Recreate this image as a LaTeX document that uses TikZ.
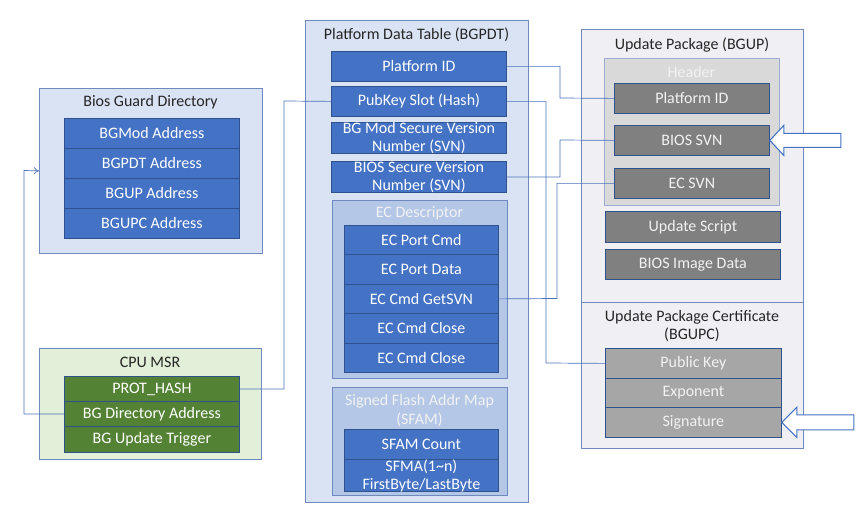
\documentclass[tikz,border=0pt]{standalone}
\usepackage{fontspec}
\setmainfont{Carlito}
\usetikzlibrary{arrows.meta}
\definecolor{outerfill}{HTML}{DAE3F3}
\definecolor{outerdraw}{HTML}{7089BE}
\definecolor{rowblue}{HTML}{4472C4}
\definecolor{rowdraw}{HTML}{2F528F}
\definecolor{ecfill}{HTML}{B4C7E7}
\definecolor{greenfill}{HTML}{E2F0D9}
\definecolor{rowgreen}{HTML}{548235}
\definecolor{upfill}{HTML}{F0F0F4}
\definecolor{hdrfill}{HTML}{D9D9D9}
\definecolor{rowgray}{HTML}{808080}
\definecolor{rowlgray}{HTML}{A6A6A6}
\definecolor{titletext}{HTML}{262626}
\definecolor{conncol}{HTML}{4A70BC}
\tikzset{
  box/.style={anchor=north west, inner sep=0pt, line width=0.8pt},
  outerbox/.style={box, fill=outerfill, draw=outerdraw},
  brow/.style={box, fill=rowblue, draw=rowdraw, text=white, minimum height=30, align=center, font=\fontsize{16}{19}\selectfont},
  greenrow/.style={brow, fill=rowgreen},
  grayrow/.style={brow, fill=rowgray, text=white!95!black},
  lgrayrow/.style={brow, fill=rowlgray, text=white!95!black},
  title/.style={inner sep=0pt, text=titletext, align=center, font=\fontsize{16}{18}\selectfont},
  wtitle/.style={title, text=white!95!black},
  conn/.style={draw=conncol, line width=0.7pt},
  hollow/.style={draw=rowblue, fill=white, line width=1.1pt, line join=miter},
}
\begin{document}
\begin{tikzpicture}[x=1pt,y=-1pt]
\useasboundingbox (0,0) rectangle (867,518);
% Bios Guard Directory
\node[outerbox, minimum width=223, minimum height=165] (bgd) at (39,88) {};
\node[title] (bgdt) at (150.5,102) {Bios Guard Directory};
\node[brow, minimum width=175] (bgmod) at (64,118) {BGMod Address};
\node[brow, minimum width=175] (bgpdta) at (64,148) {BGPDT Address};
\node[brow, minimum width=175] (bgupa) at (64,178) {BGUP Address};
\node[brow, minimum width=175] (bgupca) at (64,208) {BGUPC Address};
% CPU MSR
\node[box, fill=greenfill, draw=outerdraw, minimum width=222, minimum height=111] (msr) at (39,348) {};
\node[title] (msrt) at (150,362) {CPU MSR};
\node[greenrow, minimum width=175, minimum height=25] (prot) at (64,376) {PROT\_HASH};
\node[greenrow, minimum width=175, minimum height=25] (bgdaddr) at (64,401) {BG Directory Address};
\node[greenrow, minimum width=175, minimum height=26] (bgtrig) at (64,426) {BG Update Trigger};
% BGPDT
\node[outerbox, minimum width=223, minimum height=482] (pdt) at (305,20) {};
\node[title] (pdtt) at (416.5,35) {Platform Data Table (BGPDT)};
\node[brow, minimum width=175] (pid) at (331,51) {Platform ID};
\node[brow, minimum width=175] (pkey) at (331,86) {PubKey Slot (Hash)};
\node[brow, minimum width=175, minimum height=30] (bgmsvn) at (331,122) {BG Mod Secure Version\\[-1pt]Number (SVN)};
\node[brow, minimum width=175, minimum height=31] (biossvn) at (331,161) {BIOS Secure Version\\[-1pt]Number (SVN)};
% EC Descriptor
\node[box, fill=ecfill, draw=outerdraw, minimum width=175, minimum height=178] (ecd) at (332,200) {};
\node[wtitle] (ecdt) at (419.5,213) {EC Descriptor};
\node[brow, minimum width=154, minimum height=29.4] (ecpc) at (344,225) {EC Port Cmd};
\node[brow, minimum width=154, minimum height=29.4] (ecpd) at (344,254.4) {EC Port Data};
\node[brow, minimum width=154, minimum height=29.4] (ecget) at (344,283.8) {EC Cmd GetSVN};
\node[brow, minimum width=154, minimum height=29.4] (ecc1) at (344,313.2) {EC Cmd Close};
\node[brow, minimum width=154, minimum height=29.4] (ecc2) at (344,342.6) {EC Cmd Close};
% SFAM
\node[box, fill=ecfill, draw=outerdraw, minimum width=175, minimum height=108] (sfam) at (332,387) {};
\node[wtitle, font=\fontsize{16}{19}\selectfont] (sfamt) at (419.5,410.5) {Signed Flash Addr Map\\(SFAM)};
\node[brow, minimum width=154, minimum height=30] (sfamc) at (344,429) {SFAM Count};
\node[brow, minimum width=154, minimum height=31] (sfma) at (344,459) {SFMA(1\textasciitilde n)\\[-1pt]FirstByte/LastByte};
% BGUP
\node[box, fill=upfill, draw=outerdraw, minimum width=222, minimum height=273] (bgup) at (581,29) {};
\node[title] (bgupt) at (692,45) {Update Package (BGUP)};
\node[box, fill=hdrfill, draw=outerdraw!70, minimum width=175, minimum height=147] (hdr) at (604,58) {};
\node[wtitle] (hdrt) at (691.5,72) {Header};
\node[grayrow, minimum width=155] (upid) at (614,83) {Platform ID};
\node[grayrow, minimum width=155] (ubsvn) at (614,125) {BIOS SVN};
\node[grayrow, minimum width=155] (uecsvn) at (614,168) {EC SVN};
\node[grayrow, minimum width=175, minimum height=31] (uscript) at (605,211) {Update Script};
\node[grayrow, minimum width=175, minimum height=30] (uimg) at (605,249) {BIOS Image Data};
% BGUPC
\node[box, fill=upfill, draw=outerdraw, minimum width=222, minimum height=146] (bgupc) at (581,302) {};
\node[title] (bgupct) at (692,326) {Update Package Certificate\\(BGUPC)};
\node[lgrayrow, minimum width=176] (pubk) at (605,348) {Public Key};
\node[lgrayrow, minimum width=176, minimum height=29] (expo) at (605,378) {Exponent};
\node[lgrayrow, minimum width=176] (sig) at (605,407) {Signature};
% connectors
\draw[conn] (pid.east) -| (560,98) -- (upid.west);
\draw[conn] (pkey.east) -| (546,363) -- (pubk.west);
\draw[conn] (biossvn.east) -| (560,140) -- (ubsvn.west);
\draw[conn] (uecsvn.west) -| (557,298.5) -- (ecget.east);
\draw[conn] (prot.east) -| (284,101) -- (pkey.west);
\draw[conn, -{To[length=5pt,width=7pt]}] (bgdaddr.west) -| (24,170.5) -- (bgd.west);
% hollow arrows
\draw[hollow] (ubsvn.east) -- ++(14,-15) -- ++(0,8) -- ++(57,0) -- ++(0,14) -- ++(-57,0) -- ++(0,8) -- cycle;
\draw[hollow] (sig.east) -- ++(15,-15) -- ++(0,7.5) -- ++(57,0) -- ++(0,15) -- ++(-57,0) -- ++(0,7.5) -- cycle;
\end{tikzpicture}
\end{document}
